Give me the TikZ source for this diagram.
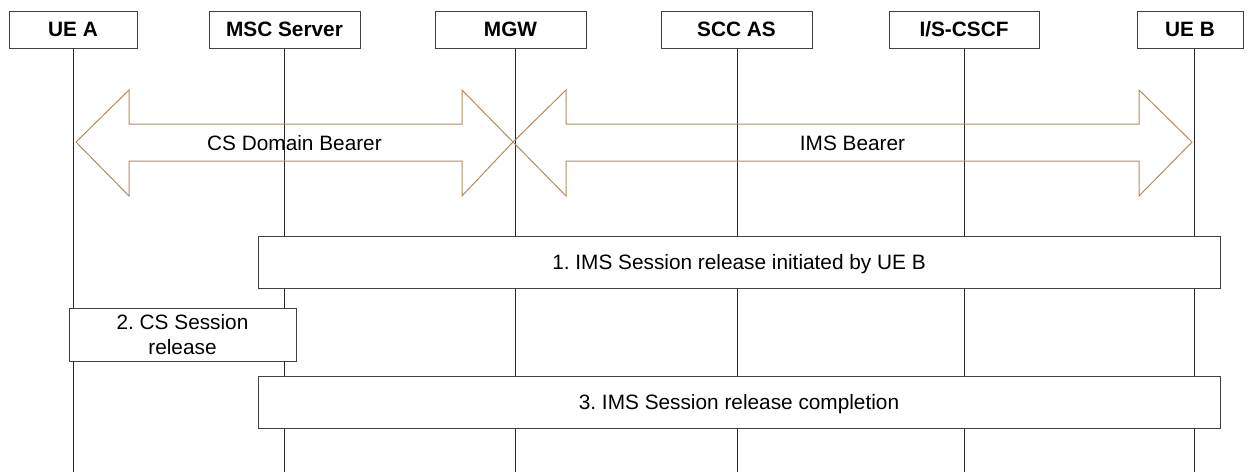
\documentclass[tikz,border=0pt]{standalone}
\usepackage{fontspec}
\setmainfont{Liberation Sans}
\frenchspacing
\begin{document}
\begin{tikzpicture}[x=1pt,y=-1pt,
  hdr/.style={draw=black!75,line width=1pt,fill=white,minimum width=151pt,minimum height=37pt,inner sep=0pt,font=\fontsize{20.8}{24}\selectfont\bfseries},
  life/.style={draw=black!85,line width=1pt},
  stepbox/.style={draw=black!75,line width=1pt,fill=white,inner sep=0pt,font=\fontsize{20.8}{25}\selectfont,align=center},
  onerow/.style={text height=23pt,text depth=8pt},
  bearer/.style={draw=bearercol,line width=1pt},
  lbl/.style={font=\fontsize{20.8}{24}\selectfont,inner sep=0pt}]
\definecolor{bearercol}{RGB}{176,140,94}
\useasboundingbox (0,0) rectangle (1248,472);
% headers
\node[hdr,minimum width=128pt] (uea) at (73,29.5) {UE A};
\node[hdr] (msc) at (284.5,29.5) {MSC Server};
\node[hdr] (mgw) at (510.5,29.5) {MGW};
\node[hdr] (scc) at (736.5,29.5) {SCC AS};
\node[hdr,minimum width=150pt] (cscf) at (964,29.5) {I/S-CSCF};
\node[hdr,minimum width=106pt] (ueb) at (1190,29.5) {UE B};
% lifeline ends
\coordinate (ueaE) at (73,472);
\coordinate (mscE) at (284,472);
\coordinate (mgwE) at (515,472);
\coordinate (sccE) at (737,472);
\coordinate (cscfE) at (964,472);
\coordinate (uebE) at (1194,472);
\draw[life] (uea.south) -- (ueaE);
\draw[life] (msc.south -| mscE) -- (mscE);
\draw[life] (mgw.south -| mgwE) -- (mgwE);
\draw[life] (scc.south -| sccE) -- (sccE);
\draw[life] (cscf.south -| cscfE) -- (cscfE);
\draw[life] (ueb.south -| uebE) -- (uebE);
% bearers
\draw[bearer] (76,142) -- (129,90) -- (129,124) -- (462,124) -- (462,90) -- (513,142)
  -- (462,196) -- (462,161) -- (129,161) -- (129,196) -- cycle;
\node[lbl] (csb) at (294.5,143) {CS Domain Bearer};
\draw[bearer] (513,142) -- (566,90) -- (566,124) -- (1139,124) -- (1139,90) -- (1192,142)
  -- (1139,196) -- (1139,161) -- (566,161) -- (566,196) -- cycle;
\node[lbl] (imsb) at (852.5,143) {IMS Bearer};
% steps
\node[stepbox,onerow,minimum width=962pt,minimum height=52pt] (s1) at (739,262) {1. IMS Session release initiated by UE B};
\node[stepbox,minimum width=227pt,minimum height=53pt] (s2) at (182.5,334.5) {2. CS Session\\release};
\node[stepbox,onerow,minimum width=962pt,minimum height=52pt] (s3) at (739,402) {3. IMS Session release completion};
\end{tikzpicture}
\end{document}
